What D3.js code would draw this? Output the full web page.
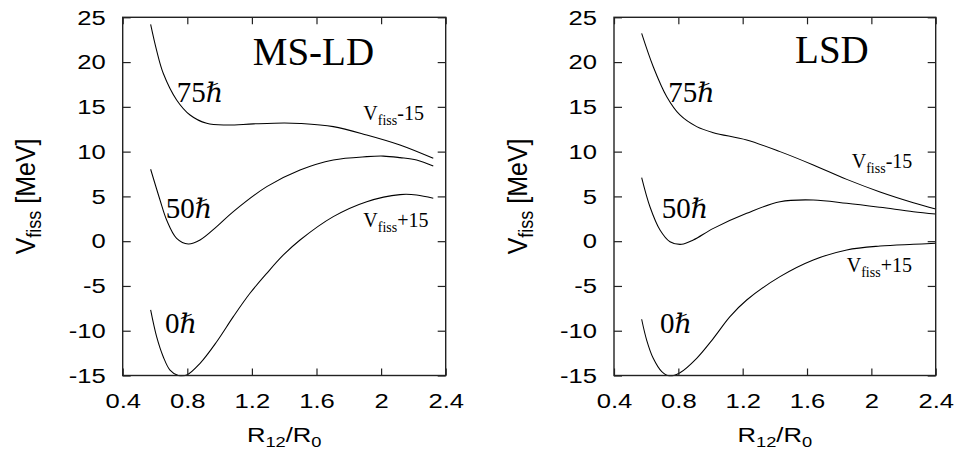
<!DOCTYPE html>
<html><head><meta charset="utf-8">
<script src="https://cdn.jsdelivr.net/npm/d3@7"></script>
<style>html,body{margin:0;padding:0;background:#fff;}svg{display:block;}</style>
</head><body>
<svg id="chart" width="958" height="455"></svg>
<script>
// ---- data ----
const xTicks = [0.4, 0.8, 1.2, 1.6, 2, 2.4];
const yTicks = [-15, -10, -5, 0, 5, 10, 15, 20, 25];

const msldX75 = [0.573,0.61,0.651,0.734,0.817,0.92,1.044,1.209,1.4,1.498,1.704,1.911,2.117,2.323];
const msldY75 = [24.2,21.3,18.75,15.77,14.09,13.16,12.97,13.1,13.2,13.15,12.79,11.86,10.74,9.25];
const msldX50 = [0.573,0.631,0.672,0.734,0.806,0.879,0.982,1.085,1.292,1.498,1.704,1.911,2.014,2.117,2.22,2.323];
const msldY50 = [8.03,4.6,2.37,0.32,-0.32,0.13,1.62,3.3,6.09,7.95,9.07,9.44,9.5,9.33,9.07,8.4];
const msldX0 = [0.573,0.61,0.651,0.693,0.744,0.796,0.879,0.982,1.085,1.188,1.292,1.395,1.498,1.704,1.911,2.117,2.22,2.323];
const msldY0 = [-7.68,-10.66,-12.9,-14.39,-15.0,-14.95,-13.64,-11.23,-8.43,-5.82,-3.59,-1.54,0.13,2.74,4.41,5.2,5.16,4.79];

const lsdX75 = [0.572,0.644,0.728,0.81,0.914,1.018,1.225,1.432,1.639,1.847,2.054,2.261,2.4];
const lsdY75 = [23.2,19.48,16.13,14.09,12.79,12.12,11.3,10.0,8.51,6.9,5.5,4.3,3.6];
const lsdX50 = [0.572,0.624,0.686,0.748,0.821,0.893,1.018,1.225,1.432,1.639,1.847,2.054,2.261,2.4];
const lsdY50 = [7.1,3.82,1.25,-0.06,-0.35,0.13,1.43,3.11,4.41,4.6,4.23,3.78,3.29,3.03];
const lsdX0 = [0.572,0.603,0.644,0.697,0.744,0.81,0.914,1.018,1.121,1.225,1.432,1.639,1.847,2.054,2.261,2.4];
const lsdY0 = [-8.72,-11.04,-13.08,-14.57,-15.05,-14.69,-13.08,-10.85,-8.43,-6.57,-3.96,-2.1,-0.98,-0.54,-0.35,-0.24];

const panelTitles = ["MS-LD", "LSD"];
const spinLabels = ["75", "50", "0"];

// ---- layout ----
const svg = d3.select("#chart");
svg.append("rect").attr("width", 958).attr("height", 455).attr("fill", "#fff");
const yTop = 17.3, yBot = 375.5;
const SX = 1.22; // horizontal stretch of sans text
const SANS = "'Liberation Sans', Arial, Helvetica, sans-serif";
const SERIF = "'Liberation Serif', 'Times New Roman', serif";

const panels = [
  {x0: 122.7, x1: 445.7, title: panelTitles[0], titleAt: [1.205, 19.67],
   curves: [[msldX75, msldY75], [msldX50, msldY50], [msldX0, msldY0]],
   spinAt: [[0.734, 15.58], [0.666, 2.55], [0.662, -10.29]],
   minusAt: [1.89, 13.53], plusAt: [1.89, 1.62], yTitleX: 35},
  {x0: 614, x1: 935.7, title: panelTitles[1], titleAt: [1.526, 19.86],
   curves: [[lsdX75, lsdY75], [lsdX50, lsdY50], [lsdX0, lsdY0]],
   spinAt: [[0.738, 15.58], [0.697, 2.55], [0.686, -10.29]],
   minusAt: [1.878, 8.14], plusAt: [1.847, -3.41], yTitleX: 527}
];

panels.forEach((p, i) => {
  const x = d3.scaleLinear().domain([0.4, 2.4]).range([p.x0, p.x1]);
  const y = d3.scaleLinear().domain([-15, 25]).range([yBot, yTop]);
  const W = p.x1 - p.x0, H = yBot - yTop;
  const g = svg.append("g");

  const clipId = "clip" + i;
  svg.append("defs").append("clipPath").attr("id", clipId)
    .append("rect").attr("x", p.x0).attr("y", yTop - 1).attr("width", W).attr("height", H + 2);

  // curves
  const line = d3.line().x(d => x(d[0])).y(d => y(d[1])).curve(d3.curveCatmullRom.alpha(0.5));
  p.curves.forEach(([xs, ys]) => {
    const pts = xs.map((v, k) => [v, ys[k]]);
    g.append("path").attr("d", line(pts)).attr("fill", "none")
      .attr("stroke", "#000").attr("stroke-width", 1.05).attr("clip-path", `url(#${clipId})`);
  });

  // axes
  const left = g.append("g").attr("transform", `translate(${p.x0},0)`)
    .call(d3.axisLeft(y).tickValues(yTicks).tickSizeInner(-8).tickSizeOuter(0).tickPadding(17).tickFormat(d => String(d)));
  const bot = g.append("g").attr("transform", `translate(0,${yBot})`)
    .call(d3.axisBottom(x).tickValues(xTicks).tickSizeInner(-7).tickSizeOuter(0).tickPadding(18).tickFormat(d => String(d)));
  const rgt = g.append("g").attr("transform", `translate(${p.x1},0)`)
    .call(d3.axisRight(y).tickValues(yTicks).tickSizeInner(-8).tickSizeOuter(0).tickFormat(""));
  const tp = g.append("g").attr("transform", `translate(0,${yTop})`)
    .call(d3.axisTop(x).tickValues(xTicks).tickSizeInner(-7).tickSizeOuter(0).tickFormat(""));
  [left, bot, rgt, tp].forEach(a => {
    a.select(".domain").remove();
    a.selectAll("line").attr("stroke", "#222").attr("stroke-width", 1.2);
  });
  [left, bot].forEach(a => {
    a.selectAll("text").attr("font-family", SANS)
      .attr("font-size", 21).attr("fill", "#000");
  });
  left.selectAll("text").each(function() {
    const t = d3.select(this);
    const xx = +t.attr("x");
    t.attr("x", xx / SX).attr("transform", `scale(${SX},1)`);
  });
  bot.selectAll("text").attr("transform", `scale(${SX},1)`).attr("dy", "0.71em");

  // frame
  g.append("rect").attr("x", p.x0).attr("y", yTop).attr("width", W).attr("height", H)
    .attr("fill", "none").attr("stroke", "#222").attr("stroke-width", 1.4);

  // axis titles
  const cx = (p.x0 + p.x1) / 2;
  const xt = g.append("text").attr("transform", `translate(${cx},442) scale(${SX},1)`)
    .attr("text-anchor", "middle").attr("font-family", SANS)
    .attr("font-size", 21).attr("fill", "#000");
  xt.append("tspan").text("R");
  xt.append("tspan").attr("font-size", 15).attr("dy", 5).text("12");
  xt.append("tspan").attr("dy", -5).text("/R");
  xt.append("tspan").attr("font-size", 15).attr("dy", 5).text("0");

  const cy = (yTop + yBot) / 2;
  const yt = g.append("text").attr("transform", `translate(${p.yTitleX},${cy}) rotate(-90) scale(1,1.12)`)
    .attr("text-anchor", "middle").attr("font-family", SANS)
    .attr("font-size", 25).attr("fill", "#000");
  yt.append("tspan").text("V");
  yt.append("tspan").attr("font-size", 18).attr("dy", 5).text("fiss");
  yt.append("tspan").attr("dy", -5).text(" [MeV]");

  // panel title
  g.append("text").attr("x", x(p.titleAt[0])).attr("y", y(p.titleAt[1]))
    .attr("font-family", SERIF)
    .attr("font-size", 39).attr("fill", "#000").text(p.title);

  // spin labels
  p.spinAt.forEach((pos, k) => {
    const t = g.append("text").attr("x", x(pos[0])).attr("y", y(pos[1]))
      .attr("font-size", 29).attr("fill", "#000");
    t.append("tspan").attr("font-family", SERIF).text(spinLabels[k]);
    t.append("tspan").attr("font-family", "'DejaVu Serif', serif").attr("font-style", "italic")
      .attr("font-size", 27).text("ℏ");
  });

  // shift labels
  [[p.minusAt, "-15"], [p.plusAt, "+15"]].forEach(([pos, suf]) => {
    const t = g.append("text").attr("x", x(pos[0])).attr("y", y(pos[1]))
      .attr("font-family", SERIF)
      .attr("font-size", 20).attr("fill", "#000");
    t.append("tspan").text("V");
    t.append("tspan").attr("font-size", 14).attr("dy", 5).text("fiss");
    t.append("tspan").attr("dy", -5).text(suf);
  });
});
</script>
</body></html>
